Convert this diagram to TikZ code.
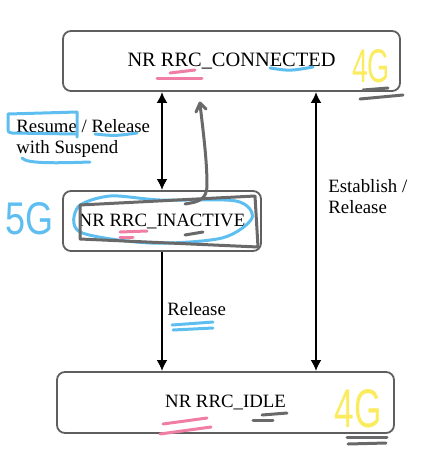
\documentclass[tikz,border=0pt]{standalone}
\usepackage{fontspec}
\setmainfont{Liberation Serif}
\newfontfamily\handfont{Liberation Sans}
\usepackage{tikz}
\definecolor{bx}{RGB}{95, 95, 95}
\definecolor{pk}{RGB}{240, 125, 165}
\definecolor{bl}{RGB}{95, 190, 240}
\definecolor{yl}{RGB}{250, 235, 95}
\definecolor{gy}{RGB}{105, 105, 105}
\usetikzlibrary{positioning}
\usetikzlibrary{arrows.meta}

\begin{document}
\begin{tikzpicture}[scale=0.5,
  state/.style={rectangle, rounded corners=4pt, draw=bx, line width=0.9pt, minimum height=30pt, font=\fontsize{9.4}{11}\selectfont},
  lbl/.style={align=left, inner sep=0pt, font=\fontsize{9.4}{10.6}\selectfont},
  both/.style={line width=1.3pt, {Latex[length=5.5pt,width=5.5pt]}-{Latex[length=5.5pt,width=5.5pt]}},
  one/.style={line width=1.3pt, -{Latex[length=5.5pt,width=5.5pt]}},
  pen/.style={line width=1.5pt, line cap=round, line join=round},
  hand/.style={inner sep=0pt, font=\handfont}]
\useasboundingbox (0pt, 0pt) rectangle (421pt, -472pt);
% states
\node (conn) [state, minimum width=168.5pt, font=\fontsize{10.2}{12}\selectfont] at (231.5pt, -61pt) {NR RRC\_CONNECTED};
\node (inac) [state, minimum width=99pt] at (162pt, -221pt) {NR RRC\_INACTIVE};
\node (idle) [state, minimum width=168.5pt, minimum height=30.5pt] at (225.5pt, -402.5pt) {NR RRC\_IDLE};
\coordinate (est) at (316pt, -92pt);
% transitions
\draw [both] (conn.south -| inac.north) to (inac.north);
\draw [one] (inac.south) to (idle.north -| inac.south);
\draw [both] (conn.south -| est) to (idle.north -| est);
\node (resume) [lbl, anchor=north west] at (16pt, -119pt) {Resume / Release\\with Suspend};
\node (establish) [lbl, anchor=north west] at (328pt, -179pt) {Establish /\\Release};
\node (release) [lbl, anchor=north west] at (167pt, -302pt) {Release};
% pen marks
\draw [pen, bl] (75pt, -134pt) -- (12pt, -133pt) .. controls (8pt, -132pt) .. (8pt, -128pt) -- (8pt, -114pt) -- (77pt, -112pt) -- (77pt, -137pt);
\draw [pen, bl] (95pt, -134pt) .. controls (115pt, -136pt) .. (137pt, -133pt);
\draw [pen, bl] (22pt, -158pt) .. controls (26pt, -164pt) and (60pt, -163pt) .. (90pt, -162pt);
\draw [pen, pk] (157pt, -78pt) -- (202pt, -78pt);
\draw [pen, pk] (170pt, -73pt) -- (195pt, -70pt);
\draw [pen, bl] (270pt, -68pt) .. controls (290pt, -71pt) .. (313pt, -67pt);
\draw [pen, gy] (363pt, -90pt) -- (388pt, -88pt);
\draw [pen, gy] (360pt, -99pt) -- (403pt, -95pt);
\node (g4top) [hand, text=yl] at (371pt, -66.5pt) {\resizebox{19pt}{16.5pt}{4G}};
\node (g5) [hand, text=bl] at (29pt, -219pt) {\resizebox{24pt}{16pt}{5G}};
\node (g4low) [hand, text=yl] at (358pt, -409pt) {\resizebox{23.5pt}{19pt}{4G}};
\draw [pen, bl] plot [smooth cycle] coordinates {(110pt, -196pt) (78pt, -207pt) (80pt, -232pt) (150pt, -243pt) (222pt, -238pt) (252pt, -218pt) (236pt, -201pt) (160pt, -200pt)};
\draw [pen, gy] (80pt, -205pt) -- (255pt, -196pt) -- (258pt, -247pt) -- (80pt, -239pt) -- cycle;
\draw [pen, pk] (120pt, -232pt) -- (147pt, -231pt);
\draw [pen, pk] (120pt, -237pt) -- (133pt, -237pt);
\draw [pen, gy] (185pt, -235pt) -- (203pt, -232pt);
\draw [pen, gy] (185pt, -204pt) .. controls (198pt, -202pt) and (207pt, -200pt) .. (207pt, -185pt) .. controls (207pt, -160pt) and (203pt, -130pt) .. (200pt, -104pt);
\draw [pen, gy] (196pt, -112pt) -- (200pt, -103pt) -- (206pt, -109pt);
\draw [pen, bl] (172pt, -325pt) -- (213pt, -322pt);
\draw [pen, bl] (173pt, -330pt) -- (213pt, -328pt);
\draw [pen, pk] (163pt, -424pt) -- (207pt, -418pt);
\draw [pen, pk] (160pt, -434pt) -- (211pt, -427pt);
\draw [pen, gy] (262pt, -415pt) -- (287pt, -413pt);
\draw [pen, gy] (253pt, -420pt) -- (273pt, -420pt);
\draw [pen, gy] (347pt, -437pt) -- (387pt, -437pt);
\draw [pen, gy] (348pt, -444pt) -- (386pt, -443pt);
\end{tikzpicture}
\end{document}
